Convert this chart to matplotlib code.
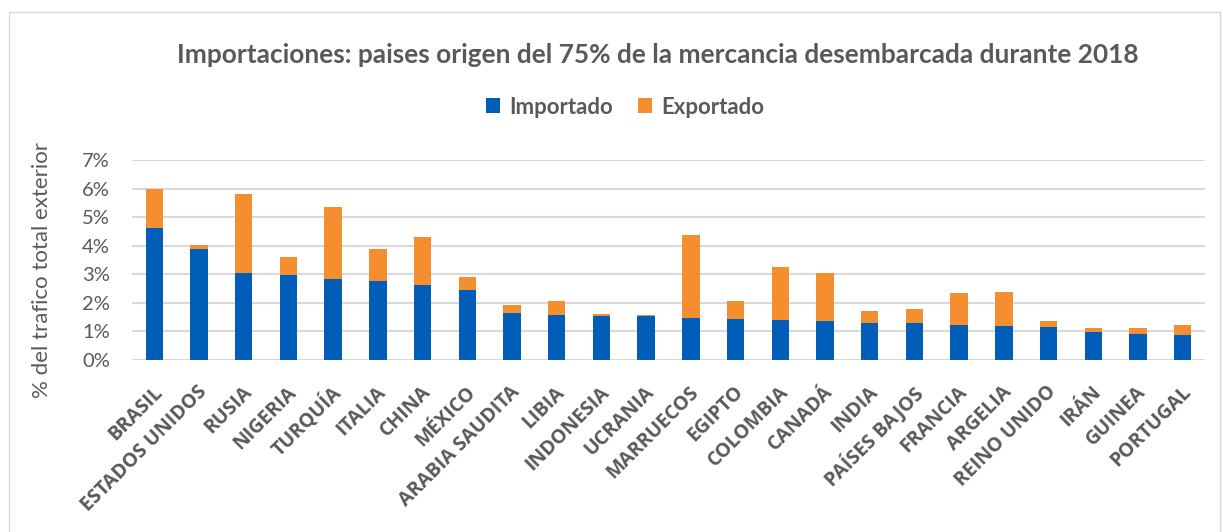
import numpy as np
import matplotlib.pyplot as plt
import matplotlib.transforms as mtrans
from matplotlib.patches import Rectangle

paises = ["BRASIL", "ESTADOS UNIDOS", "RUSIA", "NIGERIA", "TURQUÍA", "ITALIA",
          "CHINA", "MÉXICO", "ARABIA SAUDITA", "LIBIA", "INDONESIA", "UCRANIA",
          "MARRUECOS", "EGIPTO", "COLOMBIA", "CANADÁ", "INDIA", "PAÍSES BAJOS",
          "FRANCIA", "ARGELIA", "REINO UNIDO", "IRÁN", "GUINEA", "PORTUGAL"]
importado = [4.61, 3.87, 3.05, 2.97, 2.82, 2.77, 2.61, 2.44, 1.66, 1.57, 1.55, 1.55,
             1.47, 1.44, 1.41, 1.37, 1.30, 1.29, 1.21, 1.18, 1.16, 0.99, 0.90, 0.88]
total = [5.97, 4.04, 5.80, 3.59, 5.37, 3.87, 4.31, 2.89, 1.91, 2.05, 1.61, 1.58,
         4.37, 2.06, 3.26, 3.06, 1.73, 1.77, 2.36, 2.37, 1.36, 1.11, 1.11, 1.22]
exportado = [t - i for t, i in zip(total, importado)]
yticks = [0, 1, 2, 3, 4, 5, 6, 7]

azul = "#005EB8"
naranja = "#F58E2E"
gris = "#595959"

fig = plt.figure(figsize=(12.23, 5.32), dpi=100)
ax = fig.add_axes([132 / 1223, 1 - 360 / 532, 1073 / 1223, 200 / 532])

x = np.arange(len(paises))
ax.bar(x, importado, width=0.39, color=azul, zorder=3, label="Importado")
ax.bar(x, exportado, width=0.39, bottom=importado, color=naranja, zorder=3,
       label="Exportado")

ax.set_xlim(-0.5, len(paises) - 0.5)
ax.set_ylim(0, 7)
ax.set_yticks(yticks)
ax.set_yticklabels([f"{v}%" for v in yticks], fontsize=14.5, color=gris,
                   family="Lato")
ax.yaxis.grid(True, color="#D9D9D9", linewidth=1.5, zorder=0)
for s in ax.spines.values():
    s.set_visible(False)
ax.tick_params(axis="both", length=0)
ax.tick_params(axis="y", pad=16)

ax.set_xticks(x)
ax.set_xticklabels(paises, rotation=45, ha="right", va="top",
                   rotation_mode="anchor", fontsize=14, fontweight="bold",
                   color=gris, family="Open Sans")
ax.tick_params(axis="x", pad=16)
desplaza = mtrans.ScaledTranslation(-2 / 100, 0, fig.dpi_scale_trans)
for lab in ax.get_xticklabels():
    lab.set_transform(lab.get_transform() + desplaza)

ax.set_ylabel("% del trafico total exterior", fontsize=16, color=gris,
              family="Lato")
ax.yaxis.set_label_coords(-0.0746, 0.45)

fig.text(0.538, 1 - 55 / 532, "Importaciones: paises origen del 75% de la mercancia desembarcada durante 2018",
         ha="center", va="center", fontsize=18.9, fontweight="bold", color=gris,
         family="Lato")

fig.legend(loc="center", bbox_to_anchor=(0.511, 1 - 107 / 532), ncol=2,
           frameon=False, handlelength=0.65, handleheight=0.65,
           columnspacing=1.1, handletextpad=0.4,
           prop={"family": "Lato", "weight": "bold", "size": 16},
           labelcolor=gris)

fig.patches.append(Rectangle((9 / 1223, -0.1), 1211 / 1223, 1.1 - 12 / 532,
                             transform=fig.transFigure, fill=False,
                             edgecolor="#D9D9D9", linewidth=1))

fig.savefig("out.png", dpi=100)
